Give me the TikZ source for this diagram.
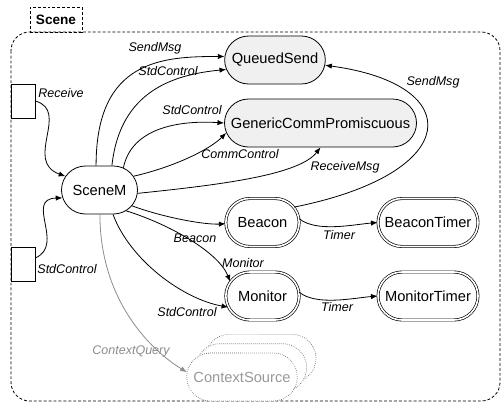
\documentclass[tikz,border=0pt]{standalone}
\usepackage{fontspec}
\setmainfont{Liberation Sans}
\usetikzlibrary{arrows.meta,shapes.misc,shadows}

\begin{document}
\begin{tikzpicture}[x=0.75pt,y=-0.75pt,line width=0.6pt,
  every node/.style={font=\fontsize{11}{13}\selectfont,align=center},
  m/.style={draw,rounded rectangle,minimum height=36pt,inner sep=2pt},
  c/.style={m,fill=gray!12},
  t/.style={m,double,double distance=1.2pt,line width=0.5pt},
  l/.style={font=\fontsize{9.4}{11}\selectfont\itshape},
  i/.style={draw,minimum width=18pt,minimum height=25.5pt,inner sep=0pt},
  sc/.style={draw,dash pattern=on 2.2pt off 1.5pt},
  >={Latex[length=5pt,width=4pt]}]
\useasboundingbox (0,0) rectangle (504,411);
\draw[sc,rounded corners=14pt] (11,32) rectangle (500,401);
\node[sc,minimum width=39pt,minimum height=18.75pt,font=\fontsize{10.2}{12}\selectfont\bfseries] (sn) at (56,19.5) {Scene};
\node[c,minimum width=79.5pt] (qs) at (275,60) {QueuedSend};
\node[c,minimum width=148pt] (gc) at (320.5,123) {GenericCommPromiscuous};
\node[m,minimum width=61pt] (sm) at (99.5,190) {SceneM};
\node[t,minimum width=59pt] (bc) at (262.5,222.5) {Beacon};
\node[t,minimum width=79pt] (bt) at (428,222.5) {BeaconTimer};
\node[t,minimum width=59pt] (mo) at (262.5,296) {Monitor};
\node[t,minimum width=79pt] (mt) at (428,296) {MonitorTimer};
\node[m,draw=black!60,densely dotted,line width=0.5pt,fill=white,text=black!40,minimum width=87pt,
  double copy shadow={shadow xshift=7pt,shadow yshift=7pt,draw=black!60,densely dotted,fill=white}] (cs) at (242,377) {ContextSource};
\node[i] (ri) at (23,101) {};
\node[i] (si) at (23,264.5) {};
% wires out of SceneM
\draw[->] (sm.98) .. controls +(0,-106) and +(-62,0) .. (qs.176) node[l] at (155,48) {SendMsg};
\draw[->] (sm.63) .. controls +(8,-75) and +(-52,5) .. (qs.191) node[l] at (168,71) {StdControl};
\draw[->] (sm.43) .. controls +(8,-39) and +(-47,-3) .. (gc.west) node[l] at (192,110) {StdControl};
\draw[->] (sm.22) .. controls +(43,-10) and +(-16,16) .. (gc.186) node[l] at (240,154) {CommControl};
\draw[->] (sm.-5) .. controls +(88,-9) and +(-21,27) .. (gc.south) node[l] at (345,167) {ReceiveMsg};
\draw[->] (sm.-26) .. controls +(33,12) and +(-21,1) .. (bc.182) node[l] at (195,238) {Beacon};
\draw[->] (sm.-38) .. controls +(42,13) and +(-12,-30) .. (mo.156) node[l] at (243,263) {Monitor};
\draw[->] (sm.-61) .. controls +(17,46) and +(-45,-8) .. (mo.198) node[l] at (187,312) {StdControl};
\draw[->,black!45] (sm.-89) .. controls +(0,86) and +(-36,-22) .. (cs.175) node[l,text=black!45] at (131,351) {ContextQuery};
% wires into SceneM
\draw[->] (ri.east) .. controls +(35,10) and +(-42,-15) .. (sm.158) node[l] at (61,93) {Receive};
\draw[->] (si.28) .. controls +(30,-13) and +(-38,1) .. (sm.192) node[l] at (67,269) {StdControl};
% timers and send
\draw[->] (bc.26) .. controls +(170,-34) and +(142,19) .. (qs.-6) node[l] at (433,82) {SendMsg};
\draw[->] (bc.6) .. controls +(17,14) and +(-24,2) .. (bt.west) node[l] at (339,235) {Timer};
\draw[->] (mo.6) .. controls +(17,14) and +(-24,2) .. (mt.west) node[l] at (337,307) {Timer};
\end{tikzpicture}
\end{document}
